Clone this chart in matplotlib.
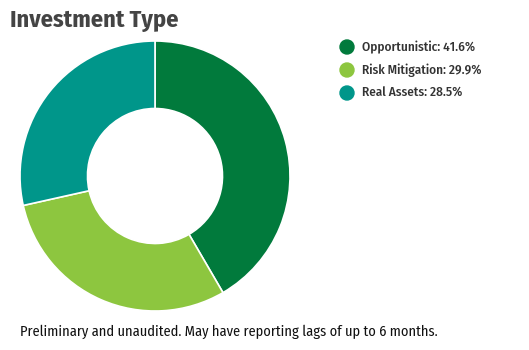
import matplotlib
matplotlib.use("Agg")
import matplotlib.pyplot as plt
from matplotlib.patches import Ellipse

categories = ["Opportunistic", "Risk Mitigation", "Real Assets"]
shares = [41.6, 29.9, 28.5]
colors = ["#017a3c", "#8dc63f", "#00968a"]

FONT = ["Fira Sans Condensed", "DejaVu Sans"]

W, H = 529, 350
fig = plt.figure(figsize=(W / 100, H / 100), dpi=100)
fig.patch.set_facecolor("white")

# donut
cx, cy, r = 155, 176, 135
ax = fig.add_axes([(cx - r) / W, (H - cy - r) / H, 2 * r / W, 2 * r / H])
ax.pie(shares, colors=colors, startangle=90, counterclock=False,
       wedgeprops=dict(width=0.5, edgecolor="white", linewidth=1.2),
       radius=1.0)
ax.set_xlim(-1, 1)
ax.set_ylim(-1, 1)
ax.set_aspect("equal")
ax.axis("off")

fig.text(10 / W, 1 - 20 / H, "Investment Type", fontsize=17.5, fontweight="bold",
         color="#444444", family=FONT, va="center", ha="left")

# legend
for i, (c, v, col) in enumerate(zip(categories, shares, colors)):
    y = 47 + i * 23
    fig.add_artist(Ellipse((347 / W, 1 - y / H), 14 / W, 14 / H,
                           transform=fig.transFigure, color=col))
    fig.text(362 / W, 1 - y / H, f"{c}: {v}%", fontsize=9.5, fontweight="medium",
             color="#333333", family=FONT, va="center", ha="left")

fig.text(20 / W, 1 - 332 / H, "Preliminary and unaudited. May have reporting lags of up to 6 months.",
         fontsize=10.4, color="#111111", family=FONT, va="center", ha="left")

fig.savefig("out.png", dpi=100)
